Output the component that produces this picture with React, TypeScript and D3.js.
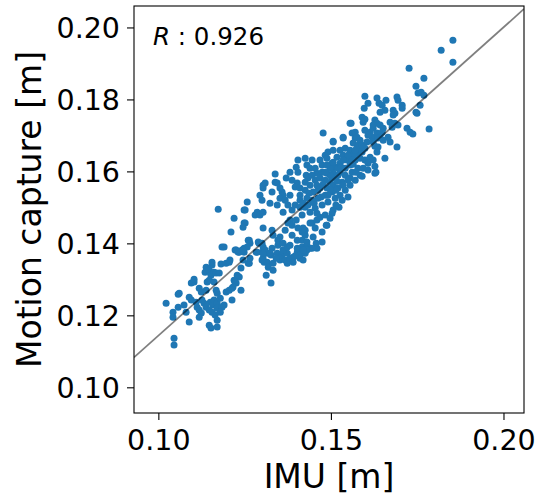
import React from 'react';
import * as d3 from 'd3';

type Pt = [number, number];

// [IMU (m), Motion capture (m)] pairs, grouped by region
const lowerCluster: Pt[] = [
  [0.1021,0.1235],[0.1041,0.1210],[0.1041,0.1196],[0.1044,0.1138],[0.1044,0.1119],[0.1056,0.1260],[0.1056,0.1224],[0.1059,0.1263],
  [0.1073,0.1230],[0.1079,0.1210],[0.1088,0.1252],[0.1094,0.1244],[0.1088,0.1183],[0.1094,0.1291],[0.1102,0.1294],[0.1102,0.1302],
  [0.1108,0.1238],[0.1111,0.1224],[0.1117,0.1216],[0.1123,0.1208],[0.1117,0.1196],[0.1117,0.1277],[0.1123,0.1266],[0.1134,0.1321],
  [0.1137,0.1335],[0.1140,0.1294],[0.1137,0.1271],[0.1146,0.1327],[0.1154,0.1341],[0.1151,0.1313],[0.1146,0.1299],[0.1160,0.1294],
  [0.1160,0.1321],[0.1166,0.1319],[0.1175,0.1319],[0.1166,0.1271],[0.1169,0.1263],[0.1180,0.1344],[0.1195,0.1346],[0.1204,0.1349],
  [0.1195,0.1266],[0.1204,0.1271],[0.1212,0.1277],[0.1224,0.1291],[0.1218,0.1299],[0.1233,0.1308],[0.1238,0.1271],[0.1212,0.1244],
  [0.1146,0.1174],[0.1151,0.1166],[0.1169,0.1169],[0.1169,0.1188],[0.1131,0.1235],[0.1137,0.1224],[0.1149,0.1238],[0.1157,0.1230],
  [0.1160,0.1244],[0.1169,0.1235],[0.1146,0.1216],[0.1154,0.1210],[0.1169,0.1221],[0.1183,0.1224],[0.1189,0.1230],[0.1178,0.1210],
  [0.1163,0.1202],[0.1125,0.1244],[0.1178,0.1249],
];

const midCluster: Pt[] = [
  [0.1183,0.1391],[0.1224,0.1383],[0.1247,0.1377],[0.1247,0.1388],[0.1262,0.1410],[0.1290,0.1402],[0.1282,0.1377],[0.1299,0.1377],
  [0.1314,0.1374],[0.1325,0.1369],[0.1262,0.1346],[0.1305,0.1349],[0.1311,0.1313],[0.1325,0.1291],[0.1172,0.1496],[0.1218,0.1471],
  [0.1247,0.1494],[0.1247,0.1458],[0.1209,0.1433],[0.1189,0.1391],[0.1233,0.1377],[0.1241,0.1383],[0.1154,0.1349],[0.1238,0.1333],
  [0.1227,0.1313],[0.1206,0.1355],[0.1221,0.1294],[0.1215,0.1280],[0.1256,0.1516],[0.1250,0.1494],[0.1285,0.1488],[0.1279,0.1480],
  [0.1293,0.1480],[0.1302,0.1488],[0.1293,0.1535],[0.1299,0.1521],[0.1302,0.1555],[0.1302,0.1563],[0.1308,0.1569],[0.1337,0.1594],
  [0.1337,0.1571],[0.1343,0.1569],[0.1328,0.1544],[0.1357,0.1544],[0.1360,0.1535],[0.1351,0.1527],[0.1322,0.1513],[0.1343,0.1508],
  [0.1374,0.1508],[0.1395,0.1508],[0.1360,0.1488],[0.1386,0.1494],[0.1409,0.1502],[0.1424,0.1502],[0.1380,0.1466],[0.1374,0.1458],
  [0.1386,0.1452],[0.1250,0.1458],[0.1244,0.1446],[0.1302,0.1444],[0.1328,0.1438],[0.1331,0.1424],[0.1351,0.1419],[0.1345,0.1410],
  [0.1259,0.1410],[0.1264,0.1402],[0.1256,0.1391],[0.1288,0.1405],[0.1299,0.1402],[0.1302,0.1391],[0.1308,0.1383],[0.1221,0.1383],
  [0.1230,0.1377],[0.1244,0.1383],[0.1328,0.1388],[0.1343,0.1374],[0.1357,0.1369],[0.1372,0.1374],[0.1302,0.1360],[0.1314,0.1349],
  [0.1331,0.1346],[0.1351,0.1355],[0.1389,0.1363],[0.1409,0.1360],[0.1372,0.1346],[0.1244,0.1355],[0.1259,0.1346],[0.1264,0.1360],
  [0.1285,0.1377],[0.1302,0.1374],[0.1322,0.1374],[0.1299,0.1355],[0.1317,0.1335],[0.1331,0.1327],[0.1345,0.1396],[0.1360,0.1402],
  [0.1360,0.1383],[0.1351,0.1360],[0.1366,0.1355],[0.1380,0.1360],[0.1389,0.1349],[0.1401,0.1377],[0.1409,0.1369],[0.1424,0.1374],
  [0.1415,0.1391],[0.1429,0.1396],[0.1438,0.1388],[0.1458,0.1388],[0.1473,0.1405],[0.1447,0.1419],[0.1456,0.1402],[0.1418,0.1444],
  [0.1415,0.1433],[0.1424,0.1424],[0.1444,0.1458],[0.1458,0.1466],[0.1487,0.1452],[0.1401,0.1388],[0.1444,0.1388],[0.1429,0.1383],
  [0.1386,0.1577],[0.1401,0.1569],[0.1395,0.1558],[0.1409,0.1555],[0.1427,0.1591],[0.1432,0.1583],[0.1398,0.1613],[0.1429,0.1619],
  [0.1438,0.1610],[0.1403,0.1599],[0.1351,0.1555],[0.1395,0.1366],[0.1418,0.1355],[0.1372,0.1391],[0.1340,0.1360],
];

const coreCluster: Pt[] = [
  [0.1458,0.1596],[0.1473,0.1599],[0.1487,0.1596],[0.1496,0.1591],[0.1505,0.1596],[0.1482,0.1646],[0.1487,0.1638],[0.1516,0.1641],
  [0.1540,0.1641],[0.1560,0.1646],[0.1574,0.1652],[0.1502,0.1624],[0.1511,0.1613],[0.1490,0.1655],[0.1476,0.1708],[0.1505,0.1683],
  [0.1534,0.1696],[0.1554,0.1735],[0.1560,0.1708],[0.1569,0.1694],[0.1563,0.1680],[0.1577,0.1674],[0.1583,0.1688],[0.1574,0.1666],
  [0.1589,0.1674],[0.1597,0.1666],[0.1548,0.1530],[0.1522,0.1502],[0.1485,0.1452],[0.1438,0.1458],[0.1505,0.1494],[0.1502,0.1485],
  [0.1482,0.1480],[0.1467,0.1474],[0.1458,0.1485],[0.1424,0.1438],[0.1415,0.1410],[0.1429,0.1405],[0.1418,0.1383],[0.1409,0.1535],
  [0.1424,0.1549],[0.1438,0.1563],[0.1453,0.1577],[0.1467,0.1583],[0.1482,0.1577],[0.1496,0.1571],[0.1511,0.1583],[0.1525,0.1599],
  [0.1540,0.1610],[0.1554,0.1619],[0.1569,0.1633],[0.1583,0.1638],[0.1589,0.1655],[0.1525,0.1624],[0.1540,0.1591],[0.1554,0.1583],
  [0.1531,0.1571],[0.1519,0.1555],[0.1502,0.1544],[0.1482,0.1535],[0.1461,0.1527],[0.1444,0.1521],[0.1432,0.1508],[0.1453,0.1499],
  [0.1473,0.1508],[0.1490,0.1516],[0.1511,0.1527],[0.1525,0.1535],[0.1540,0.1549],[0.1554,0.1563],[0.1569,0.1577],[0.1583,0.1591],
  [0.1577,0.1610],[0.1560,0.1599],[0.1545,0.1633],[0.1519,0.1610],[0.1496,0.1610],[0.1473,0.1619],[0.1453,0.1610],[0.1444,0.1591],
  [0.1424,0.1571],[0.1409,0.1521],[0.1438,0.1488],[0.1453,0.1444],[0.1473,0.1433],[0.1496,0.1471],[0.1513,0.1508],[0.1531,0.1521],
  [0.1467,0.1555],[0.1487,0.1555],[0.1505,0.1563],[0.1540,0.1666],[0.1525,0.1660],[0.1505,0.1660],[0.1467,0.1633],[0.1444,0.1633],
  [0.1424,0.1638],[0.1403,0.1633],[0.1380,0.1599],[0.1369,0.1583],[0.1366,0.1521],[0.1380,0.1535],[0.1415,0.1480],[0.1398,0.1466],
  [0.1403,0.1444],[0.1366,0.1438],[0.1386,0.1424],[0.1380,0.1396],[0.1401,0.1410],[0.1597,0.1633],[0.1592,0.1610],[0.1606,0.1605],
  [0.1589,0.1588],[0.1461,0.1549],[0.1447,0.1544],[0.1490,0.1535],[0.1513,0.1549],[0.1534,0.1563],[0.1548,0.1577],[0.1571,0.1599],
  [0.1519,0.1591],[0.1487,0.1619],[0.1458,0.1563],[0.1429,0.1527],[0.1418,0.1513],[0.1482,0.1599],[0.1534,0.1646],[0.1554,0.1660],
  [0.1435,0.1541],[0.1476,0.1566],[0.1499,0.1588],[0.1528,0.1613],[0.1551,0.1638],[0.1566,0.1649],[0.1516,0.1574],[0.1496,0.1552],
  [0.1470,0.1530],[0.1450,0.1513],[0.1563,0.1621],[0.1505,0.1627],
];

const upperCluster: Pt[] = [
  [0.1597,0.1810],[0.1632,0.1805],[0.1638,0.1791],[0.1647,0.1785],[0.1690,0.1808],[0.1693,0.1799],[0.1705,0.1785],[0.1757,0.1785],
  [0.1595,0.1777],[0.1641,0.1766],[0.1655,0.1771],[0.1679,0.1771],[0.1684,0.1763],[0.1679,0.1758],[0.1748,0.1763],[0.1589,0.1752],
  [0.1597,0.1746],[0.1592,0.1738],[0.1626,0.1744],[0.1632,0.1735],[0.1621,0.1730],[0.1641,0.1730],[0.1650,0.1721],[0.1647,0.1710],
  [0.1670,0.1738],[0.1676,0.1724],[0.1684,0.1735],[0.1693,0.1730],[0.1719,0.1721],[0.1728,0.1710],[0.1736,0.1705],[0.1557,0.1735],
  [0.1505,0.1685],[0.1534,0.1694],[0.1569,0.1710],[0.1574,0.1696],[0.1612,0.1710],[0.1618,0.1696],[0.1603,0.1683],[0.1621,0.1683],
  [0.1641,0.1702],[0.1650,0.1688],[0.1670,0.1683],[0.1664,0.1696],[0.1690,0.1669],[0.1626,0.1671],[0.1635,0.1669],[0.1632,0.1655],
  [0.1592,0.1669],[0.1569,0.1660],[0.1548,0.1646],[0.1560,0.1633],[0.1655,0.1638],[0.1612,0.1641],[0.1621,0.1633],[0.1606,0.1624],
  [0.1626,0.1616],[0.1626,0.1596],[0.1534,0.1633],[0.1597,0.1716],[0.1606,0.1702],[0.1621,0.1721],[0.1632,0.1708],[0.1635,0.1694],
  [0.1783,0.1719],[0.1629,0.1599],[0.1705,0.1777],[0.1745,0.1766],[0.1658,0.1799],[0.1606,0.1791],
];

const topCluster: Pt[] = [
  [0.1725,0.1888],[0.1745,0.1838],[0.1768,0.1860],[0.1751,0.1819],[0.1760,0.1821],[0.1768,0.1813],[0.1818,0.1938],[0.1852,0.1966],
  [0.1852,0.1905],
];

const xTicks = [0.1, 0.15, 0.2];
const yTicks = [0.1, 0.12, 0.14, 0.16, 0.18, 0.2];
const xDomain: [number, number] = [0.0928, 0.2058];
const yDomain: [number, number] = [0.093, 0.2061];
const fitSlope = 0.857;
const fitIntercept = 0.0289;
const rValue = '0.926';
const xLabel = 'IMU [m]';
const yLabel = 'Motion capture [m]';

const FONT = '"DejaVu Sans", Verdana, sans-serif';

export default function App() {
  const W = 549;
  const H = 500;
  const L = 134, R = 524, T = 6, B = 413;
  const x = d3.scaleLinear().domain(xDomain).range([L, R]);
  const y = d3.scaleLinear().domain(yDomain).range([B, T]);
  const points: Pt[] = [...lowerCluster, ...midCluster, ...coreCluster, ...upperCluster, ...topCluster];
  const fitData: Pt[] = xDomain.map((v) => [v, fitSlope * v + fitIntercept] as Pt);
  const line = d3.line<Pt>().x((d) => x(d[0])).y((d) => y(d[1]));
  const fmt = d3.format('.2f');
  const tickLen = 7;
  const tickFs = 28.5;
  const labelFs = 33;

  return (
    <svg width={W} height={H} style={{ position: 'absolute', left: 0, top: 0, background: '#fff' }} fontFamily={FONT}>
      <rect x={0} y={0} width={W} height={H} fill="#fff" />
      <defs>
        <clipPath id="plotClip">
          <rect x={L} y={T} width={R - L} height={B - T} />
        </clipPath>
      </defs>
      <g clipPath="url(#plotClip)">
        {points.map((d, i) => (
          <circle key={i} cx={x(d[0])} cy={y(d[1])} r={3.5} fill="#1f77b4" />
        ))}
        <path d={line(fitData) || ''} stroke="#000" strokeOpacity={0.5} strokeWidth={1.7} fill="none" />
      </g>
      <rect x={L} y={T} width={R - L} height={B - T} fill="none" stroke="#000" strokeWidth={1.1} />
      {xTicks.map((t) => (
        <g key={'x' + t}>
          <line x1={x(t)} x2={x(t)} y1={B} y2={B + tickLen} stroke="#000" strokeWidth={1.1} />
          <text x={x(t)} y={450} textAnchor="middle" fontSize={tickFs} fill="#000">{fmt(t)}</text>
        </g>
      ))}
      {yTicks.map((t) => (
        <g key={'y' + t}>
          <line x1={L - tickLen} x2={L} y1={y(t)} y2={y(t)} stroke="#000" strokeWidth={1.1} />
          <text x={L - tickLen - 7} y={y(t) + 10.4} textAnchor="end" fontSize={tickFs} fill="#000">{fmt(t)}</text>
        </g>
      ))}
      <text x={(L + R) / 2} y={488} textAnchor="middle" fontSize={labelFs} fill="#000">{xLabel}</text>
      <text transform={`translate(41, ${(T + B) / 2}) rotate(-90)`} textAnchor="middle" fontSize={labelFs} fill="#000">{yLabel}</text>
      <text x={153} y={45} fontSize={24.5} fill="#000">
        <tspan fontStyle="italic">R</tspan>{' : ' + rValue}
      </text>
    </svg>
  );
}
